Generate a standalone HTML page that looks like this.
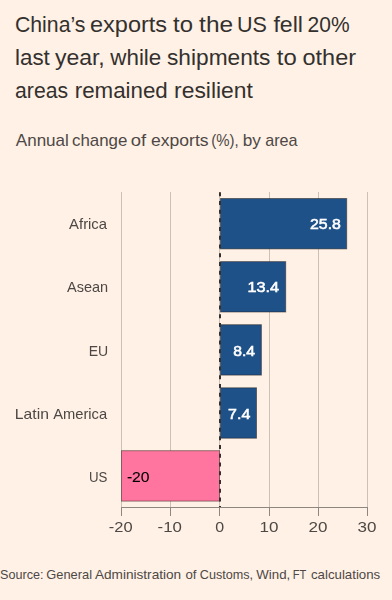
<!DOCTYPE html>
<html>
<head>
<meta charset="utf-8">
<style>
html,body{margin:0;padding:0;background:#fff1e5;width:392px;height:600px;overflow:hidden}
svg{display:block;position:absolute;left:0;top:0}
.chart{will-change:transform}
text{font-family:"Liberation Sans",sans-serif}
</style>
</head>
<body>
<svg width="392" height="600" viewBox="0 0 392 600">
<rect x="0" y="0" width="392" height="600" fill="#fff1e5"/>
<text x="14.96" y="32" textLength="70.45" lengthAdjust="spacingAndGlyphs" style="font-size:22.5px;font-weight:normal;" fill="#33302e">China’s</text>
<text x="90.06" y="32" textLength="77.08" lengthAdjust="spacingAndGlyphs" style="font-size:22.5px;font-weight:normal;" fill="#33302e">exports</text>
<text x="173.00" y="32" textLength="19.91" lengthAdjust="spacingAndGlyphs" style="font-size:22.5px;font-weight:normal;" fill="#33302e">to</text>
<text x="199.10" y="32" textLength="33.99" lengthAdjust="spacingAndGlyphs" style="font-size:22.5px;font-weight:normal;" fill="#33302e">the</text>
<text x="236.99" y="32" textLength="29.93" lengthAdjust="spacingAndGlyphs" style="font-size:22.5px;font-weight:normal;" fill="#33302e">US</text>
<text x="273.40" y="32" textLength="29.51" lengthAdjust="spacingAndGlyphs" style="font-size:22.5px;font-weight:normal;" fill="#33302e">fell</text>
<text x="307.57" y="32" textLength="42.01" lengthAdjust="spacingAndGlyphs" style="font-size:22.5px;font-weight:normal;" fill="#33302e">20%</text>
<text x="15.01" y="65" textLength="34.81" lengthAdjust="spacingAndGlyphs" style="font-size:22.5px;font-weight:normal;" fill="#33302e">last</text>
<text x="54.90" y="65" textLength="49.82" lengthAdjust="spacingAndGlyphs" style="font-size:22.5px;font-weight:normal;" fill="#33302e">year,</text>
<text x="110.30" y="65" textLength="50.97" lengthAdjust="spacingAndGlyphs" style="font-size:22.5px;font-weight:normal;" fill="#33302e">while</text>
<text x="166.99" y="65" textLength="103.46" lengthAdjust="spacingAndGlyphs" style="font-size:22.5px;font-weight:normal;" fill="#33302e">shipments</text>
<text x="276.80" y="65" textLength="19.91" lengthAdjust="spacingAndGlyphs" style="font-size:22.5px;font-weight:normal;" fill="#33302e">to</text>
<text x="302.56" y="65" textLength="53.45" lengthAdjust="spacingAndGlyphs" style="font-size:22.5px;font-weight:normal;" fill="#33302e">other</text>
<text x="15.06" y="98" textLength="53.02" lengthAdjust="spacingAndGlyphs" style="font-size:22.5px;font-weight:normal;" fill="#33302e">areas</text>
<text x="74.71" y="98" textLength="93.10" lengthAdjust="spacingAndGlyphs" style="font-size:22.5px;font-weight:normal;" fill="#33302e">remained</text>
<text x="174.08" y="98" textLength="78.76" lengthAdjust="spacingAndGlyphs" style="font-size:22.5px;font-weight:normal;" fill="#33302e">resilient</text>
<text x="15.80" y="146" textLength="53.04" lengthAdjust="spacingAndGlyphs" style="font-size:17px;font-weight:normal;" fill="#4d4845">Annual</text>
<text x="72.01" y="146" textLength="55.37" lengthAdjust="spacingAndGlyphs" style="font-size:17px;font-weight:normal;" fill="#4d4845">change</text>
<text x="130.82" y="146" textLength="15.39" lengthAdjust="spacingAndGlyphs" style="font-size:17px;font-weight:normal;" fill="#4d4845">of</text>
<text x="151.07" y="146" textLength="57.51" lengthAdjust="spacingAndGlyphs" style="font-size:17px;font-weight:normal;" fill="#4d4845">exports</text>
<text x="211.32" y="146" textLength="27.41" lengthAdjust="spacingAndGlyphs" style="font-size:17px;font-weight:normal;" fill="#4d4845">(%),</text>
<text x="242.79" y="146" textLength="18.18" lengthAdjust="spacingAndGlyphs" style="font-size:17px;font-weight:normal;" fill="#4d4845">by</text>
<text x="265.15" y="146" textLength="32.38" lengthAdjust="spacingAndGlyphs" style="font-size:17px;font-weight:normal;" fill="#4d4845">area</text>
<text x="0.03" y="579" textLength="43.46" lengthAdjust="spacingAndGlyphs" style="font-size:13px;font-weight:normal;" fill="#4d4845">Source:</text>
<text x="46.31" y="579" textLength="45.72" lengthAdjust="spacingAndGlyphs" style="font-size:13px;font-weight:normal;" fill="#4d4845">General</text>
<text x="94.90" y="579" textLength="86.29" lengthAdjust="spacingAndGlyphs" style="font-size:13px;font-weight:normal;" fill="#4d4845">Administration</text>
<text x="185.50" y="579" textLength="11.04" lengthAdjust="spacingAndGlyphs" style="font-size:13px;font-weight:normal;" fill="#4d4845">of</text>
<text x="199.83" y="579" textLength="53.25" lengthAdjust="spacingAndGlyphs" style="font-size:13px;font-weight:normal;" fill="#4d4845">Customs,</text>
<text x="256.30" y="579" textLength="33.96" lengthAdjust="spacingAndGlyphs" style="font-size:13px;font-weight:normal;" fill="#4d4845">Wind,</text>
<text x="292.65" y="579" textLength="13.56" lengthAdjust="spacingAndGlyphs" style="font-size:13px;font-weight:normal;" fill="#4d4845">FT</text>
<text x="311.00" y="579" textLength="69.24" lengthAdjust="spacingAndGlyphs" style="font-size:13px;font-weight:normal;" fill="#4d4845">calculations</text>
</svg>
<svg class="chart" width="392" height="600" viewBox="0 0 392 600">
<g stroke="#ccc1b7" stroke-width="1">
<line x1="121.5" y1="192" x2="121.5" y2="507"/>
<line x1="170.5" y1="192" x2="170.5" y2="507"/>
<line x1="219.5" y1="192" x2="219.5" y2="507"/>
<line x1="269.5" y1="192" x2="269.5" y2="507"/>
<line x1="318.5" y1="192" x2="318.5" y2="507"/>
<line x1="367.5" y1="192" x2="367.5" y2="507"/>
</g>
<g stroke="rgba(40,30,20,0.5)" stroke-width="1">
<rect x="220.5" y="198.5" width="126.2" height="50.4" fill="#1f5189"/>
<rect x="220.5" y="261.6" width="65.2" height="50.4" fill="#1f5189"/>
<rect x="220.5" y="324.7" width="40.9" height="50.4" fill="#1f5189"/>
<rect x="220.5" y="387.8" width="36" height="50.4" fill="#1f5189"/>
<rect x="121.5" y="450.7" width="98" height="50.4" fill="#ff75a0"/>
</g>
<line x1="220" y1="192.2" x2="220" y2="508" stroke="#33302e" stroke-width="2" stroke-dasharray="4,4.72"/>
<g stroke="#8e8780" stroke-width="1">
<line x1="121" y1="507.5" x2="368" y2="507.5"/>
<line x1="121.5" y1="507" x2="121.5" y2="516"/>
<line x1="170.5" y1="507" x2="170.5" y2="516"/>
<line x1="219.5" y1="507" x2="219.5" y2="516"/>
<line x1="269.5" y1="507" x2="269.5" y2="516"/>
<line x1="318.5" y1="507" x2="318.5" y2="516"/>
<line x1="367.5" y1="507" x2="367.5" y2="516"/>
</g>
<text x="69.10" y="229" textLength="37.98" lengthAdjust="spacingAndGlyphs" style="font-size:14.5px;font-weight:normal;" fill="#4d4845">Africa</text>
<text x="67.00" y="292" textLength="41.12" lengthAdjust="spacingAndGlyphs" style="font-size:14.5px;font-weight:normal;" fill="#4d4845">Asean</text>
<text x="88.63" y="355.7" textLength="19.48" lengthAdjust="spacingAndGlyphs" style="font-size:14.5px;font-weight:normal;" fill="#4d4845">EU</text>
<text x="14.82" y="419" textLength="34.07" lengthAdjust="spacingAndGlyphs" style="font-size:14.5px;font-weight:normal;" fill="#4d4845">Latin</text>
<text x="53.20" y="419" textLength="53.99" lengthAdjust="spacingAndGlyphs" style="font-size:14.5px;font-weight:normal;" fill="#4d4845">America</text>
<text x="88.88" y="482" textLength="18.46" lengthAdjust="spacingAndGlyphs" style="font-size:14.5px;font-weight:normal;" fill="#4d4845">US</text>
<text x="310.00" y="229" textLength="30.86" lengthAdjust="spacingAndGlyphs" style="font-size:14.5px;font-weight:normal;stroke:#ffffff;stroke-width:0.55px" fill="#ffffff">25.8</text>
<text x="247.58" y="292" textLength="31.58" lengthAdjust="spacingAndGlyphs" style="font-size:14.5px;font-weight:normal;stroke:#ffffff;stroke-width:0.55px" fill="#ffffff">13.4</text>
<text x="233.20" y="356" textLength="21.79" lengthAdjust="spacingAndGlyphs" style="font-size:14.5px;font-weight:normal;stroke:#ffffff;stroke-width:0.55px" fill="#ffffff">8.4</text>
<text x="228.10" y="419.2" textLength="22.19" lengthAdjust="spacingAndGlyphs" style="font-size:14.5px;font-weight:normal;stroke:#ffffff;stroke-width:0.55px" fill="#ffffff">7.4</text>
<text x="126.90" y="481.7" textLength="22.67" lengthAdjust="spacingAndGlyphs" style="font-size:14.5px;font-weight:normal;stroke:#000000;stroke-width:0.1px" fill="#000000">-20</text>
<text x="108.77" y="532" textLength="23.80" lengthAdjust="spacingAndGlyphs" style="font-size:14.5px;font-weight:normal;" fill="#4d4845">-20</text>
<text x="157.54" y="532" textLength="24.32" lengthAdjust="spacingAndGlyphs" style="font-size:14.5px;font-weight:normal;" fill="#4d4845">-10</text>
<text x="215.20" y="532" textLength="8.89" lengthAdjust="spacingAndGlyphs" style="font-size:14.5px;font-weight:normal;" fill="#4d4845">0</text>
<text x="259.53" y="532" textLength="18.94" lengthAdjust="spacingAndGlyphs" style="font-size:14.5px;font-weight:normal;" fill="#4d4845">10</text>
<text x="308.53" y="532" textLength="18.94" lengthAdjust="spacingAndGlyphs" style="font-size:14.5px;font-weight:normal;" fill="#4d4845">20</text>
<text x="357.53" y="532" textLength="18.94" lengthAdjust="spacingAndGlyphs" style="font-size:14.5px;font-weight:normal;" fill="#4d4845">30</text>
</svg>
</body>
</html>
